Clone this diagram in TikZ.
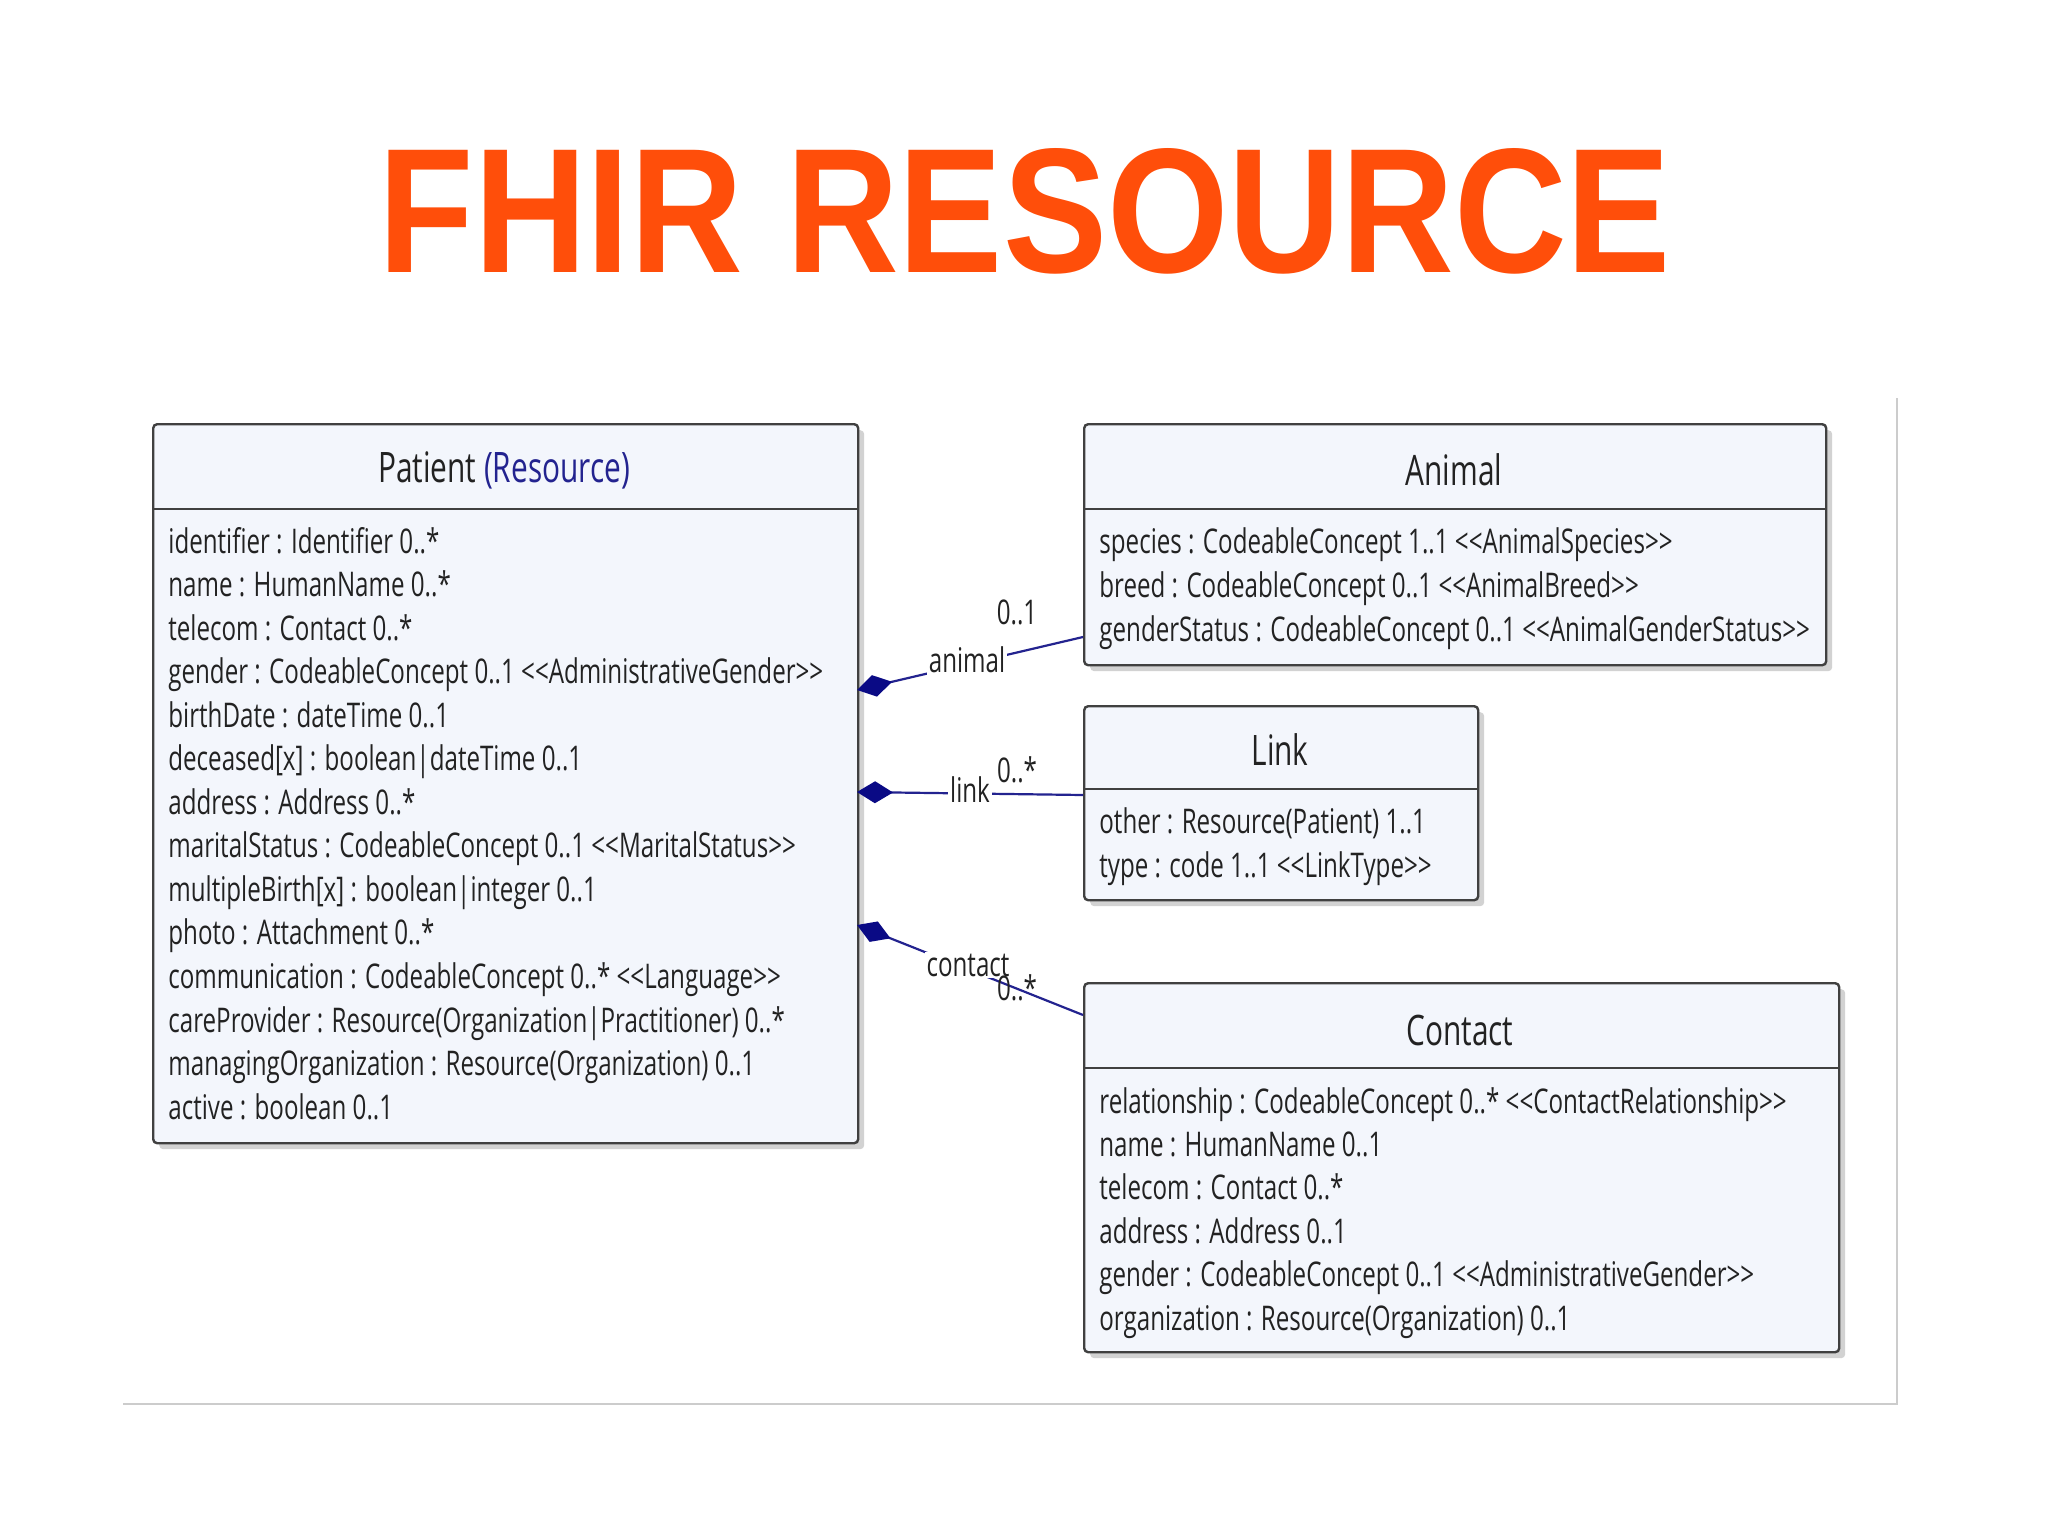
\documentclass[tikz,border=0pt]{standalone}
\usepackage{fontspec}
\setmainfont{Liberation Sans}
\newfontfamily\umlfont[FakeStretch=0.71]{Open Sans}
\usetikzlibrary{shadows,arrows.meta,calc}
\definecolor{ttl}{HTML}{FF4E0A}
\definecolor{boxfill}{HTML}{F3F6FC}
\definecolor{conn}{HTML}{23238F}
\definecolor{dia}{HTML}{0A0A85}
\definecolor{txt}{HTML}{222222}
\begin{document}
\begin{tikzpicture}[x=0.5pt,y=-0.5pt,
 umlbox/.style={draw=black!75,line width=1.2pt,fill=boxfill,rounded corners=2pt,
   drop shadow={shadow xshift=3pt,shadow yshift=-3pt,opacity=0.35},anchor=north west,inner sep=0},
 attr/.style={anchor=base west,font=\umlfont\fontsize{17}{20}\selectfont,text=txt,inner sep=0},
 head/.style={font=\umlfont\fontsize{21}{24}\selectfont,text=txt,inner sep=0},
 lbl/.style={font=\umlfont\fontsize{17}{20}\selectfont,text=txt,inner sep=0},
 rname/.style={lbl,fill=white,inner sep=1pt},
 assoc/.style={draw=conn,line width=1.1pt,-{Diamond[length=18pt,width=11pt,fill=dia,color=dia]}}]
\useasboundingbox (0,0) rectangle (2048,1536);
\fill[white] (0,0) rectangle (2048,1536);
\node[text=ttl,inner sep=0] (title) at (1025,211) {\resizebox{646pt}{62pt}{\bfseries FHIR RESOURCE}};
\draw[black!20,line width=0.8pt] (123,1404) -- (1897,1404) -- (1897,398);
% boxes
\node[umlbox,minimum width=352.5pt,minimum height=359.5pt] (patient) at (152,423) {};
\node[umlbox,minimum width=371pt,minimum height=120.5pt] (animal) at (1083,423) {};
\node[umlbox,minimum width=197pt,minimum height=97pt] (link) at (1083,705) {};
\node[umlbox,minimum width=377.5pt,minimum height=184.5pt] (contact) at (1083,982) {};
\draw[black!75,line width=1.2pt] ($(patient.north west)+(0,86)$) -- ($(patient.north east)+(0,86)$);
\draw[black!75,line width=1.2pt] ($(animal.north west)+(0,86)$) -- ($(animal.north east)+(0,86)$);
\draw[black!75,line width=1.2pt] ($(link.north west)+(0,84)$) -- ($(link.north east)+(0,84)$);
\draw[black!75,line width=1.2pt] ($(contact.north west)+(0,86)$) -- ($(contact.north east)+(0,86)$);
% headers
\node[head] (ph) at (504,470) {Patient \textcolor{conn}{(Resource)}};
\node[head] (ah) at (1454,470) {Animal};
\node[head] (lh) at (1280,750) {Link};
\node[head] (ch) at (1460,1030) {Contact};
% patient attrs
\foreach \t [count=\i from 0] in {identifier : Identifier 0..*,name : HumanName 0..*,telecom : Contact 0..*,
 gender : CodeableConcept 0..1 <<AdministrativeGender>>,birthDate : dateTime 0..1,
 deceased[x] : boolean|dateTime 0..1,address : Address 0..*,
 maritalStatus : CodeableConcept 0..1 <<MaritalStatus>>,multipleBirth[x] : boolean|integer 0..1,
 photo : Attachment 0..*,communication : CodeableConcept 0..* <<Language>>,
 careProvider : Resource(Organization|Practitioner) 0..*,
 managingOrganization : Resource(Organization) 0..1,active : boolean 0..1}
 \node[attr] (pa\i) at (168,{553+43.55*\i}) {\t};
\foreach \t [count=\i from 0] in {species : CodeableConcept 1..1 <<AnimalSpecies>>,
 breed : CodeableConcept 0..1 <<AnimalBreed>>,genderStatus : CodeableConcept 0..1 <<AnimalGenderStatus>>}
 \node[attr] (aa\i) at (1099,{553+44*\i}) {\t};
\foreach \t [count=\i from 0] in {other : Resource(Patient) 1..1,type : code 1..1 <<LinkType>>}
 \node[attr] (la\i) at (1099,{833+44*\i}) {\t};
\foreach \t [count=\i from 0] in {relationship : CodeableConcept 0..* <<ContactRelationship>>,
 name : HumanName 0..1,telecom : Contact 0..*,address : Address 0..1,
 gender : CodeableConcept 0..1 <<AdministrativeGender>>,organization : Resource(Organization) 0..1}
 \node[attr] (ca\i) at (1099,{1113+43.4*\i}) {\t};
% connectors
\coordinate (ae) at (1083,637);
\coordinate (ap) at (857,690);
\coordinate (le) at (1083,795);
\coordinate (lp) at (857,792);
\coordinate (ce) at (1083,1015);
\coordinate (cp) at (857,925);
\draw[assoc] (ae) -- (ap);
\draw[assoc] (le) -- (lp);
\draw[assoc] (ce) -- (cp);
\node[rname] (l1) at (967,660) {animal};
\node[lbl] (l2) at (1017,612) {0..1};
\node[rname] (l3) at (970,790) {link};
\node[lbl] (l4) at (1017,770) {0..*};
\node[rname] (l5) at (968,965) {contact};
\node[lbl] (l6) at (1017,988) {0..*};
\end{tikzpicture}
\end{document}
